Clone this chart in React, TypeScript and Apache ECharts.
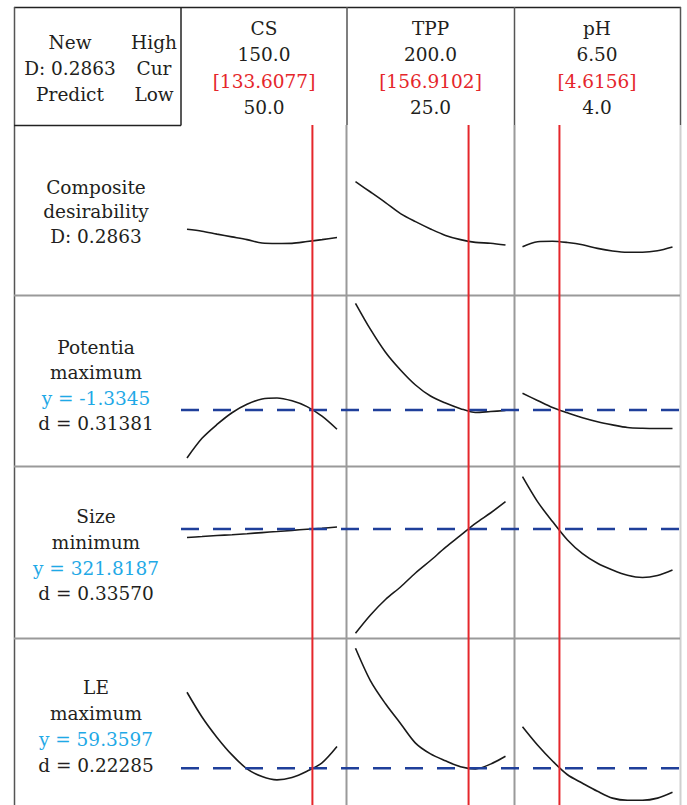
import React, { useEffect, useRef } from "react";
import * as echarts from "echarts";

// ---------------- data ----------------
const factorNames = ["CS", "TPP", "pH"];
const factorHigh = ["150.0", "200.0", "6.50"];
const factorCur = ["[133.6077]", "[156.9102]", "[4.6156]"];
const factorLow = ["50.0", "25.0", "4.0"];
const factorMin = [50, 25, 4.0];
const factorMax = [150, 200, 6.5];
const factorSetting = [133.6077, 156.9102, 4.6156];

const csLevels = [50, 60, 70, 80, 90, 100, 110, 120, 130, 140, 150];
const tppLevels = [25, 42.5, 60, 77.5, 95, 112.5, 130, 147.5, 165, 182.5, 200];
const phLevels = [4.0, 4.25, 4.5, 4.75, 5.0, 5.25, 5.5, 5.75, 6.0, 6.25, 6.5];

// Composite desirability D
const compositeCS = [0.356, 0.344, 0.326, 0.309, 0.292, 0.271, 0.268, 0.269, 0.28, 0.292, 0.305];
const compositeTPP = [0.65, 0.586, 0.521, 0.453, 0.403, 0.358, 0.318, 0.292, 0.275, 0.27, 0.259];
const compositePH = [0.248, 0.279, 0.282, 0.274, 0.26, 0.238, 0.222, 0.214, 0.214, 0.223, 0.246];

// Potentia (maximum)
const potentiaCS = [-5.33, -3.69, -2.54, -1.56, -0.86, -0.42, -0.33, -0.57, -1.05, -1.85, -2.94];
const potentiaTPP = [7.56, 5.38, 3.48, 2.0, 0.75, -0.17, -0.75, -1.22, -1.54, -1.46, -1.38];
const potentiaPH = [0.06, -0.54, -1.13, -1.57, -1.98, -2.31, -2.57, -2.79, -2.86, -2.88, -2.88];

// Size (minimum)
const sizeCS = [304.5, 306.5, 308.6, 310.2, 312.2, 314.5, 316.7, 319.0, 321.4, 323.4, 325.9];
const sizeTPP = [109.6, 146.8, 178.3, 203.8, 232.3, 257.7, 284.2, 308.6, 333.4, 354.4, 377.4];
const sizePH = [428.2, 377.4, 337.0, 299.4, 271.5, 252.0, 238.4, 227.6, 223.1, 227.2, 238.4];

// LE (maximum)
const leCS = [78.7, 72.4, 67.2, 62.75, 59.2, 57.25, 56.4, 57.0, 58.6, 60.75, 64.9];
const leTPP = [89.9, 81.6, 75.75, 70.75, 65.75, 63.0, 61.25, 59.75, 59.2, 60.4, 62.4];
const lePH = [69.9, 65.25, 61.2, 57.7, 55.55, 53.5, 51.75, 51.2, 51.2, 51.75, 53.25];

const predictedY = [0.2863, -1.3345, 321.8187, 59.3597];

const rowNameLines = [
  ["Composite", "desirability"],
  ["Potentia", "maximum"],
  ["Size", "minimum"],
  ["LE", "maximum"],
];
const rowYText = ["", "y = -1.3345", "y = 321.8187", "y = 59.3597"];
const rowDText = ["D: 0.2863", "d = 0.31381", "d = 0.33570", "d = 0.22285"];

// ---------------- layout ----------------
const W = 687;
const H = 805;
const FONT = '"DejaVu Serif", "Liberation Serif", serif';
const FS = 18.5;
const BLACK = "#231f20";
const RED = "#e5262b";
const CYAN = "#1fa9e6";
const BLUE = "#1f3f9a";

const colLeft = [187, 355.5, 522.5];
const colWidth = 150;
const colCenter = [264, 430.5, 597];
const rowTop = [125, 295, 466, 638];
const rowHeight = [170, 171, 172, 170];
const rowMin = [-0.05, -6, 100, 50];
const rowMax = [1.0, 8.25, 450, 92.5];
const rowLineY = [
  [187, 211, 236],
  [347, 372.5, 398, 423],
  [516, 542, 568, 593],
  [687, 713, 739, 765],
];

const levels = [csLevels, tppLevels, phLevels];
const rowData = [
  [compositeCS, compositeTPP, compositePH],
  [potentiaCS, potentiaTPP, potentiaPH],
  [sizeCS, sizeTPP, sizePH],
  [leCS, leTPP, lePH],
];

function txt(text: string, x: number, y: number, fill = BLACK) {
  return {
    type: "text",
    x,
    y,
    z: 20,
    style: {
      text,
      fill,
      fontSize: FS,
      fontFamily: FONT,
      textAlign: "center",
      textVerticalAlign: "middle",
      align: "center",
      verticalAlign: "middle",
    },
  };
}

function ln(x1: number, y1: number, x2: number, y2: number, stroke: string, lw = 1.5) {
  return {
    type: "line",
    z: 1,
    shape: { x1, y1, x2, y2 },
    style: { stroke, lineWidth: lw },
  };
}

function buildOption() {
  const grid: any[] = [];
  const xAxis: any[] = [];
  const yAxis: any[] = [];
  const series: any[] = [];

  for (let r = 0; r < 4; r++) {
    for (let c = 0; c < 3; c++) {
      const gi = grid.length;
      grid.push({ left: colLeft[c], top: rowTop[r], width: colWidth, height: rowHeight[r], containLabel: false });
      xAxis.push({ type: "value", gridIndex: gi, min: factorMin[c], max: factorMax[c], show: false });
      yAxis.push({ type: "value", gridIndex: gi, min: rowMin[r], max: rowMax[r], show: false });
      series.push({
        type: "line",
        xAxisIndex: gi,
        yAxisIndex: gi,
        data: levels[c].map((x, i) => [x, rowData[r][c][i]]),
        symbol: "none",
        smooth: 0.3,
        lineStyle: { color: "#1a1a1a", width: 1.6 },
        z: 3,
        silent: true,
      });
      // current setting (red vertical)
      series.push({
        type: "line",
        xAxisIndex: gi,
        yAxisIndex: gi,
        data: [
          [factorSetting[c], rowMin[r]],
          [factorSetting[c], rowMax[r]],
        ],
        symbol: "none",
        lineStyle: { color: RED, width: 2 },
        z: 6,
        silent: true,
      });
    }
    if (r > 0) {
      const gi = grid.length;
      grid.push({ left: 181, top: rowTop[r], width: 499, height: rowHeight[r], containLabel: false });
      xAxis.push({ type: "value", gridIndex: gi, min: 0, max: 1, show: false });
      yAxis.push({ type: "value", gridIndex: gi, min: rowMin[r], max: rowMax[r], show: false });
      series.push({
        type: "line",
        xAxisIndex: gi,
        yAxisIndex: gi,
        data: [
          [0, predictedY[r]],
          [1, predictedY[r]],
        ],
        symbol: "none",
        lineStyle: { color: BLUE, width: 2.5, type: [18, 14] },
        z: 5,
        silent: true,
      });
    }
  }

  const graphic: any[] = [];
  // frame
  graphic.push(ln(14, 7.5, 681, 7.5, "#222"));
  graphic.push(ln(14.5, 7, 14.5, H, "#555"));
  graphic.push(ln(181, 7, 181, 125.5, "#222"));
  graphic.push(ln(14, 125.5, 181, 125.5, "#222"));
  graphic.push(ln(347, 7, 347, 125, "#555"));
  graphic.push(ln(514.5, 7, 514.5, 125, "#555"));
  graphic.push(ln(680.5, 7, 680.5, 125, "#555"));
  graphic.push(ln(346.5, 125, 346.5, H, "#9a9a9a", 2));
  graphic.push(ln(514.5, 125, 514.5, H, "#9a9a9a", 2));
  graphic.push(ln(680.5, 125, 680.5, H, "#cfcfcf", 2));
  for (let r = 1; r < 4; r++) {
    graphic.push(ln(14, rowTop[r] + 0.5, 680, rowTop[r] + 0.5, "#9a9a9a", 2));
  }

  // header
  graphic.push(txt("New", 70, 42));
  graphic.push(txt("D: 0.2863", 70, 68));
  graphic.push(txt("Predict", 70, 94));
  graphic.push(txt("High", 154, 42));
  graphic.push(txt("Cur", 154, 68));
  graphic.push(txt("Low", 154, 94));
  for (let c = 0; c < 3; c++) {
    graphic.push(txt(factorNames[c], colCenter[c], 28));
    graphic.push(txt(factorHigh[c], colCenter[c], 54));
    graphic.push(txt(factorCur[c], colCenter[c], 81, RED));
    graphic.push(txt(factorLow[c], colCenter[c], 107));
  }

  // row labels
  for (let r = 0; r < 4; r++) {
    const ys = rowLineY[r];
    graphic.push(txt(rowNameLines[r][0], 96, ys[0]));
    graphic.push(txt(rowNameLines[r][1], 96, ys[1]));
    if (r === 0) {
      graphic.push(txt(rowDText[r], 96, ys[2]));
    } else {
      graphic.push(txt(rowYText[r], 96, ys[2], CYAN));
      graphic.push(txt(rowDText[r], 96, ys[3]));
    }
  }

  return {
    animation: false,
    backgroundColor: "#ffffff",
    grid,
    xAxis,
    yAxis,
    series,
    graphic,
  };
}

export default function App() {
  const ref = useRef<HTMLDivElement>(null);
  useEffect(() => {
    document.body.style.margin = "0";
    if (!ref.current) return;
    const chart = echarts.init(ref.current, undefined, { renderer: "svg" });
    chart.setOption(buildOption() as any);
    return () => chart.dispose();
  }, []);
  return <div ref={ref} style={{ width: W, height: H }} />;
}
